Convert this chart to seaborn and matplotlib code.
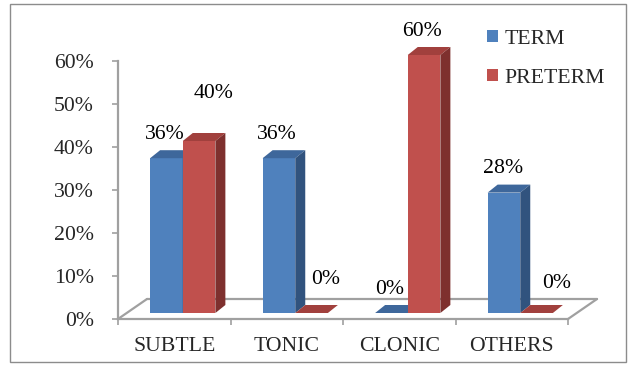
import matplotlib
matplotlib.use("Agg")
import matplotlib.pyplot as plt
import matplotlib.transforms as mtrans
from matplotlib.patches import Polygon, Rectangle
from matplotlib.lines import Line2D
import pandas as pd
import seaborn as sns

# ---- data -------------------------------------------------------------
categories = ["SUBTLE", "TONIC", "CLONIC", "OTHERS"]
series = ["TERM", "PRETERM"]
term = [36, 36, 0, 28]
preterm = [40, 0, 60, 0]
y_ticks = [0, 10, 20, 30, 40, 50, 60]
y_tick_labels = ["0%", "10%", "20%", "30%", "40%", "50%", "60%"]

df = pd.DataFrame({
    "category": categories * 2,
    "series": [series[0]] * len(categories) + [series[1]] * len(categories),
    "value": term + preterm,
})

# ---- styling ----------------------------------------------------------
front_col = {"TERM": "#4F81BD", "PRETERM": "#C0504D"}
top_col = {"TERM": "#3E679B", "PRETERM": "#A1403D"}
side_col = {"TERM": "#31537E", "PRETERM": "#7E302E"}
axis_grey = "#A0A0A0"

# value-label nudges (pixels, relative to front-top centre of each bar)
nudge = {
    "TERM": [(-2, 24), (-2, 24), (-2, 23), (-1, 24)],
    "PRETERM": [(14, 47), (14, 33), (-2, 24), (20, 29)],
}

sns.set_theme(style="white")
plt.rcParams["font.family"] = ["Liberation Serif", "DejaVu Serif"]
FS = 15.7

W, H, DPI = 633, 365, 100
fig = plt.figure(figsize=(W / DPI, H / DPI), dpi=DPI)
ax = fig.add_axes([118 / W, 1 - 319 / H, 450 / W, 258 / H])

sns.barplot(data=df, x="category", y="value", hue="series", order=categories,
            hue_order=series, palette=front_col, width=0.58, saturation=1,
            ax=ax, legend=False, linewidth=0)
ax.set_xlim(-0.5, len(categories) - 0.5)
ax.set_ylim(0, 60)
ax.set_xlabel("")
ax.set_ylabel("")

# pixel -> data conversion
p0 = ax.transData.transform((0, 0))
p1 = ax.transData.transform((1, 1))
px_x, px_y = p1 - p0


def to_data(dx_px, dy_px):
    return dx_px / px_x, dy_px / px_y


# floor of the 3-D plot area
fdx, fdy = to_data(29, 20)
x_lo, x_hi = ax.get_xlim()
for xs, ys in [([x_lo, x_lo + fdx], [0, fdy]),
               ([x_lo + fdx, x_hi + fdx], [fdy, fdy]),
               ([x_hi, x_hi + fdx], [0, fdy])]:
    ax.add_line(Line2D(xs, ys, color=axis_grey, lw=1.6, clip_on=False, zorder=0.5))

# bars sit mid-depth on the floor
shift = mtrans.ScaledTranslation(8.5 / DPI, 6 / DPI, fig.dpi_scale_trans)
bar_trans = ax.transData + shift
bdx, bdy = to_data(10, 8)

for patch in list(ax.patches):
    x0 = patch.get_x()
    w = patch.get_width()
    h = patch.get_height()
    xc = x0 + w / 2
    cat_idx = int(round(xc))
    name = series[0] if xc < cat_idx else series[1]
    z = 2 if name == series[0] else 3
    patch.set_transform(bar_trans)
    patch.set_clip_on(False)
    patch.set_zorder(z)
    x1 = x0 + w
    top = Polygon([(x0, h), (x1, h), (x1 + bdx, h + bdy), (x0 + bdx, h + bdy)],
                  closed=True, facecolor=top_col[name], edgecolor="none",
                  transform=bar_trans, clip_on=False, zorder=z)
    side = Polygon([(x1, 0), (x1 + bdx, bdy), (x1 + bdx, h + bdy), (x1, h)],
                   closed=True, facecolor=side_col[name], edgecolor="none",
                   transform=bar_trans, clip_on=False, zorder=z)
    ax.add_patch(top)
    ax.add_patch(side)
    val = (term if name == series[0] else preterm)[cat_idx]
    ax.annotate(f"{val:g}%", xy=(xc, val), xycoords=bar_trans,
                xytext=nudge[name][cat_idx], textcoords="offset pixels",
                ha="center", va="center", fontsize=FS, color="black",
                annotation_clip=False, zorder=5)

# axes
for s in ["top", "right"]:
    ax.spines[s].set_visible(False)
for s in ["left", "bottom"]:
    ax.spines[s].set_color(axis_grey)
    ax.spines[s].set_linewidth(1.6)

ax.set_yticks(y_ticks)
ax.set_yticklabels(y_tick_labels)
ax.tick_params(axis="y", length=4.5, width=1.2, color=axis_grey, pad=13,
               labelsize=FS, left=True)
ax.set_xticks(range(len(categories)))
ax.set_xticklabels(categories)
ax.set_xticks([i - 0.5 for i in range(len(categories) + 1)], minor=True)
ax.tick_params(axis="x", which="major", length=0, pad=13, labelsize=FS)
ax.tick_params(axis="x", which="minor", length=4.5, width=1.2,
               color=axis_grey, bottom=True)
ax.grid(False)

# legend
handles = [Rectangle((0, 0), 1, 1, facecolor=front_col[s], edgecolor="none")
           for s in series]
fig.legend(handles, series, loc="upper left",
           bbox_to_anchor=(487 / W, 1 - 30 / H), frameon=False,
           fontsize=FS, handlelength=0.5, handleheight=0.5,
           handletextpad=0.3, labelspacing=0.9, borderpad=0,
           borderaxespad=0)

# chart border
fig.patches.append(Rectangle((10 / W, 1 - 362 / H), 616 / W, 358 / H,
                             transform=fig.transFigure, fill=False,
                             edgecolor="#8C8C8C", lw=1.0))

fig.savefig("out.png", dpi=DPI, facecolor="white")
